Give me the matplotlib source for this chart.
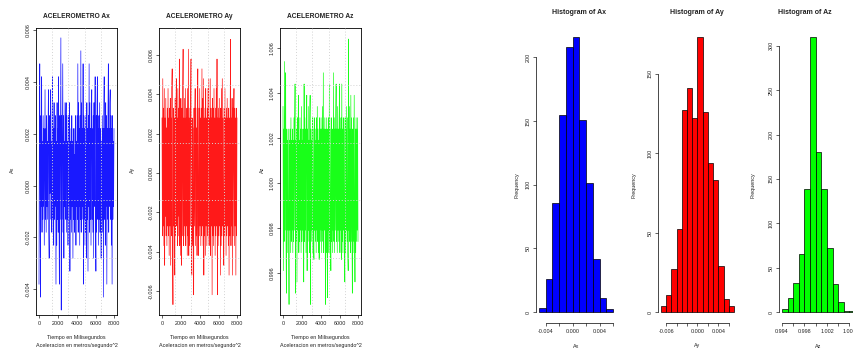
import numpy as np
import matplotlib.pyplot as plt

plt.rcParams['font.family'] = ['Liberation Sans', 'DejaVu Sans']

W, H = 854, 350

# Aceleraciones (una muestra cada 40 ms)
ax_vals = [
    -0.0038, 0.0022, 0.0047, -0.0013, -0.0043, 0.0027, -0.0008, 0.0042, -0.0018, 0.0017,
    -0.0013, 0.0027, -0.0008, 0.0022, -0.0023, 0.0012, 0.0037, -0.0013, 0.0022, -0.0018,
    0.0027, -0.0008, 0.0017, -0.0013, 0.0022, 0.0037, -0.0018, -0.0028, 0.0027, -0.0003,
    0.0022, 0.0037, -0.0013, 0.0017, -0.0018, 0.0027, 0.0042, -0.0013, 0.0022, -0.0023,
    0.0032, -0.0013, 0.0022, -0.0008, 0.0027, -0.0038, 0.0017, -0.0023, 0.0032, -0.0013,
    0.0022, -0.0018, 0.0042, -0.0008, -0.0038, 0.0027, -0.0013, 0.0022, 0.0057, -0.0048,
    0.0027, -0.0013, 0.0022, 0.0047, -0.0018, 0.0027, -0.0028, 0.0017, -0.0008, 0.0032,
    -0.0013, 0.0022, 0.0032, -0.0018, 0.0027, -0.0013, 0.0017, -0.0023, 0.0027, -0.0008,
    0.0022, 0.0032, -0.0033, 0.0017, -0.0013, 0.0022, -0.0018, 0.0027, -0.0008, 0.0017,
    -0.0028, 0.0022, -0.0013, 0.0012, -0.0018, 0.0022, -0.0013, 0.0027, -0.0023, 0.0017,
    -0.0008, 0.0027, -0.0013, 0.0047, -0.0018, 0.0032, -0.0008, 0.0022, -0.0023, 0.0027,
    -0.0013, 0.0052, -0.0018, 0.0032, -0.0013, 0.0022, -0.0008, 0.0047, -0.0038, 0.0027,
    -0.0013, 0.0022, -0.0023, 0.0027, -0.0018, 0.0017, -0.0028, 0.0032, -0.0013, 0.0022,
    -0.0033, 0.0027, -0.0008, 0.0047, -0.0018, 0.0032, -0.0013, 0.0022, -0.0023, 0.0027,
    0.0037, -0.0013, 0.0022, -0.0018, 0.0027, -0.0028, 0.0032, -0.0008, 0.0022, 0.0042,
    -0.0013, -0.0033, 0.0027, -0.0018, 0.0032, 0.0042, -0.0013, 0.0022, -0.0023, 0.0027,
    -0.0013, 0.0032, -0.0018, 0.0022, -0.0008, -0.0028, 0.0017, -0.0013, 0.0027, -0.0018,
    0.0022, -0.0043, 0.0027, 0.0042, -0.0013, 0.0022, -0.0023, 0.0032, -0.0008, 0.0027,
    -0.0038, 0.0022, -0.0013, 0.0027, 0.0047, -0.0018, 0.0022, -0.0008, 0.0032, 0.0037,
    -0.0013, 0.0027, -0.0023, 0.0022, -0.0038, 0.0027, -0.0013, 0.0017, -0.0008, 0.0022,
]

ay_vals = [
    0.0028, -0.0032, 0.0048, -0.0027, 0.0033, -0.0037, 0.0043, -0.0047, 0.0028, -0.0022,
    0.0038, -0.0032, 0.0023, -0.0037, 0.0033, -0.0027, 0.0043, -0.0032, 0.0028, -0.0042,
    0.0033, -0.0027, 0.0038, -0.0047, 0.0028, -0.0032, 0.0043, 0.0053, -0.0037, -0.0067,
    0.0033, -0.0027, 0.0028, -0.0042, -0.0052, 0.0038, -0.0032, 0.0033, 0.0048, -0.0027,
    0.0028, -0.0037, 0.0043, -0.0032, 0.0033, -0.0022, 0.0058, -0.0037, 0.0028, -0.0042,
    0.0038, -0.0027, -0.0047, 0.0033, -0.0032, 0.0043, 0.0063, -0.0037, 0.0028, -0.0027,
    0.0038, -0.0032, 0.0043, -0.0037, 0.0028, -0.0027, 0.0033, -0.0042, 0.0043, -0.0032,
    0.0063, -0.0042, 0.0028, -0.0037, 0.0033, -0.0027, 0.0038, 0.0058, -0.0032, -0.0052,
    0.0028, -0.0037, 0.0023, -0.0032, -0.0062, 0.0033, -0.0027, 0.0028, 0.0043, -0.0037,
    0.0033, -0.0032, 0.0023, -0.0042, 0.0038, 0.0053, -0.0027, -0.0042, 0.0033, -0.0032,
    0.0043, -0.0027, 0.0028, -0.0037, 0.0033, -0.0032, 0.0053, -0.0027, 0.0038, -0.0037,
    0.0048, -0.0052, 0.0028, -0.0032, 0.0033, -0.0042, 0.0043, -0.0027, 0.0028, -0.0037,
    0.0033, -0.0032, 0.0043, -0.0027, 0.0048, -0.0037, 0.0028, -0.0032, 0.0048, -0.0042,
    0.0033, -0.0027, 0.0028, -0.0062, 0.0038, -0.0032, 0.0033, -0.0037, 0.0043, -0.0027,
    0.0028, -0.0042, 0.0033, -0.0032, 0.0043, -0.0027, 0.0058, -0.0062, 0.0028, -0.0037,
    0.0033, -0.0032, 0.0038, -0.0027, 0.0028, -0.0052, 0.0033, -0.0037, 0.0043, -0.0032,
    0.0048, -0.0027, 0.0028, -0.0037, -0.0047, 0.0033, -0.0032, 0.0043, -0.0027, 0.0028,
    -0.0042, 0.0033, -0.0032, 0.0038, -0.0027, 0.0028, -0.0037, 0.0033, -0.0052, 0.0028,
    -0.0032, 0.0033, 0.0068, -0.0037, 0.0028, -0.0027, 0.0038, -0.0052, 0.0033, -0.0032,
    0.0028, 0.0043, -0.0037, 0.0033, -0.0027, 0.0028, -0.0052, 0.0033, -0.0032, 0.0028,
]

az_vals = [
    1.0034, 0.9961, 1.0024, 0.9974, 1.0054, 0.9979, 1.0029, 1.0049, 0.9974, 0.9951,
    1.0024, 0.9969, 1.0019, 0.9979, 1.0024, 0.9974, 0.9946, 1.0019, 0.9979, 1.0024,
    0.9969, 1.0029, 0.9974, 1.0019, 0.9979, 1.0024, 0.9969, 1.0019, 0.9974, 1.0029,
    0.9979, 1.0024, 1.0044, 0.9951, 1.0019, 0.9974, 1.0024, 0.9956, 1.0029, 0.9979,
    1.0024, 1.0039, 0.9969, 1.0019, 0.9974, 1.0029, 0.9979, 1.0024, 0.9969, 1.0034,
    0.9974, 1.0019, 0.9979, 1.0024, 0.9969, 0.9956, 1.0044, 0.9974, 1.0029, 0.9979,
    1.0024, 0.9969, 1.0029, 1.0039, 0.9961, 1.0024, 0.9974, 1.0034, 0.9979, 1.0019,
    0.9969, 1.0029, 1.0039, 0.9946, 1.0024, 0.9974, 1.0019, 0.9979, 1.0029, 0.9969,
    1.0024, 0.9974, 0.9966, 1.0029, 0.9979, 1.0019, 0.9974, 1.0024, 0.9969, 1.0029,
    0.9979, 1.0034, 0.9974, 1.0024, 0.9969, 1.0019, 0.9966, 1.0029, 0.9979, 1.0024,
    0.9974, 1.0029, 0.9969, 1.0024, 0.9979, 1.0034, 0.9974, 1.0049, 0.9969, 1.0024,
    0.9979, 1.0029, 0.9974, 0.9946, 1.0024, 0.9969, 1.0029, 0.9974, 0.9949, 1.0024,
    0.9979, 1.0029, 0.9969, 1.0044, 0.9974, 1.0024, 0.9979, 0.9961, 1.0029, 0.9974,
    1.0019, 0.9969, 1.0024, 0.9979, 1.0049, 0.9974, 1.0029, 0.9969, 1.0024, 0.9979,
    1.0029, 1.0044, 0.9974, 1.0024, 0.9969, 1.0034, 0.9979, 1.0024, 0.9974, 1.0029,
    1.0044, 0.9969, 1.0024, 0.9979, 1.0029, 0.9966, 1.0044, 0.9974, 1.0024, 0.9969,
    1.0029, 0.9979, 1.0024, 0.9974, 0.9956, 1.0029, 0.9969, 1.0024, 0.9979, 1.0034,
    0.9974, 1.0029, 0.9969, 0.9961, 1.0064, 0.9979, 1.0034, 0.9974, 1.0024, 0.9969,
    1.0039, 0.9974, 1.0029, 0.9979, 0.9951, 1.0024, 0.9969, 1.0029, 0.9974, 1.0039,
    0.9979, 0.9956, 1.0024, 0.9969, 1.0029, 0.9974, 1.0024, 0.9979, 1.0029, 0.9974,
]

# histogramas: limites de clase y frecuencias
ax_breaks = [-0.005, -0.004, -0.003, -0.002, -0.001, 0.0, 0.001, 0.002, 0.003, 0.004, 0.005, 0.006]
ax_counts = [3, 26, 86, 155, 208, 216, 151, 101, 42, 11, 2]
ay_breaks = [-0.007, -0.006, -0.005, -0.004, -0.003, -0.002, -0.001, 0.0,
             0.001, 0.002, 0.003, 0.004, 0.005, 0.006, 0.007]
ay_counts = [4, 11, 27, 52, 127, 141, 122, 173, 126, 94, 83, 29, 8, 4]
az_breaks = [0.994, 0.995, 0.996, 0.997, 0.998, 0.999, 1.000, 1.001,
             1.002, 1.003, 1.004, 1.005, 1.006, 1.007]
az_counts = [3, 16, 33, 65, 139, 310, 180, 139, 72, 32, 11, 1, 1]

ts_xticks = [0, 2000, 4000, 6000, 8000]
ax_yticks = [-0.004, -0.002, 0.0, 0.002, 0.004, 0.006]
ay_yticks = [-0.006, -0.004, -0.002, 0.0, 0.002, 0.004, 0.006]
az_yticks = [0.996, 0.998, 1.000, 1.002, 1.004, 1.006]

hx_ax_ticks = [-0.004, -0.002, 0.0, 0.002, 0.004, 0.006]
hx_ax_labels = ['-0.004', '', '0.000', '', '0.004', '']
hx_ay_ticks = [-0.006, -0.004, -0.002, 0.0, 0.002, 0.004, 0.006]
hx_ay_labels = ['-0.006', '', '', '0.000', '', '0.004', '']
hx_az_ticks = [0.994, 0.996, 0.998, 1.000, 1.002, 1.004, 1.006]
hx_az_labels = ['0.994', '', '0.998', '', '1.002', '', '1.006']
hy_ax_ticks = [0, 50, 100, 150, 200]
hy_ay_ticks = [0, 50, 100, 150]
hy_az_ticks = [0, 50, 100, 150, 200, 250, 300]

TXT = '#222222'
TICK_FS = 3.9
fig = plt.figure(figsize=(W / 100, H / 100), dpi=100)


def rect(left, top, w, h):
    return [left / W, 1 - (top + h) / H, w / W, h / H]


def ftext(x, y, s, **kw):
    fig.text(x / W, 1 - y / H, s, ha='center', va='center', color=TXT, **kw)


def serie(left, vals, color, titulo, ylab, ylim, yticks, ylab_x):
    a = fig.add_axes(rect(left, 28, 81, 287))
    t = np.arange(len(vals)) * 40
    a.plot(t, vals, color=color, lw=0.5, alpha=0.9)
    a.set_xlim(-320, 8280)
    a.set_ylim(ylim)
    # grid(5, 5) de R: divisiones iguales de la region
    for f in (0.2, 0.4, 0.6, 0.8):
        a.plot([f, f], [0, 1], transform=a.transAxes, color='#d3d3d3',
               lw=0.7, ls=(0, (1, 2)), zorder=3)
        a.plot([0, 1], [f, f], transform=a.transAxes, color='#d3d3d3',
               lw=0.7, ls=(0, (1, 2)), zorder=3)
    a.set_xticks(ts_xticks)
    a.set_xticklabels([str(v) for v in ts_xticks])
    a.set_yticks(yticks)
    a.set_yticklabels([f'{v:.3f}' for v in yticks], rotation=90, va='center')
    a.tick_params(length=2.5, width=0.5, labelsize=TICK_FS, pad=1.5, colors=TXT)
    for s in a.spines.values():
        s.set_linewidth(0.6)
    cx = left + 40.5
    ftext(cx, 17, titulo, fontsize=4.8, fontweight='bold')
    ftext(ylab_x, 170, ylab, fontsize=TICK_FS, rotation=90)
    ftext(cx, 338, 'Tiempo en Milisegundos', fontsize=TICK_FS)
    ftext(cx, 345, 'Aceleracion en metros/segundo^2', fontsize=TICK_FS)


def histo(left, width, breaks, counts, color, titulo, xlab, xt, xtl, yt, ylab_x, title_x):
    a = fig.add_axes(rect(left, 26, width, 297))
    b = np.array(breaks)
    a.bar(b[:-1], counts, width=np.diff(b), align='edge', color=color,
          edgecolor='black', lw=0.5)
    pad = 0.04 * (b[-1] - b[0])
    a.set_xlim(b[0] - pad, b[-1] + pad)
    top = max(counts)
    a.set_ylim(-0.04 * top, 1.04 * top)
    a.spines['top'].set_visible(False)
    a.spines['right'].set_visible(False)
    a.spines['left'].set_bounds(yt[0], yt[-1])
    a.spines['bottom'].set_bounds(xt[0], xt[-1])
    for s in ('left', 'bottom'):
        a.spines[s].set_linewidth(0.5)
    a.set_xticks(xt)
    a.set_xticklabels(xtl)
    a.set_yticks(yt)
    a.set_yticklabels([str(v) for v in yt], rotation=90, va='center')
    a.tick_params(length=2.5, width=0.5, labelsize=TICK_FS, pad=1.5, colors=TXT)
    ftext(title_x, 13, titulo, fontsize=5.0, fontweight='bold')
    ftext(left + width / 2, 346, xlab, fontsize=TICK_FS)
    ftext(ylab_x, 185, 'Frequency', fontsize=TICK_FS, rotation=90)


serie(36, ax_vals, '#0000ff', 'ACELEROMETRO Ax', 'Ax', (-0.00499, 0.00608), ax_yticks, 12)
serie(159, ay_vals, '#ff0000', 'ACELEROMETRO Ay', 'Ay', (-0.00723, 0.00738), ay_yticks, 132)
serie(280, az_vals, '#00ff00', 'ACELEROMETRO Az', 'Az', (0.99413, 1.00689), az_yticks, 262)

histo(536, 80, ax_breaks, ax_counts, '#0000ff', 'Histogram of Ax', 'Ax',
      hx_ax_ticks, hx_ax_labels, hy_ax_ticks, 517, 579)
histo(658, 79, ay_breaks, ay_counts, '#ff0000', 'Histogram of Ay', 'Ay',
      hx_ay_ticks, hx_ay_labels, hy_ay_ticks, 634, 697)
histo(779, 79, az_breaks, az_counts, '#00ff00', 'Histogram of Az', 'Az',
      hx_az_ticks, hx_az_labels, hy_az_ticks, 753, 805)

fig.savefig('out.png', dpi=100)
